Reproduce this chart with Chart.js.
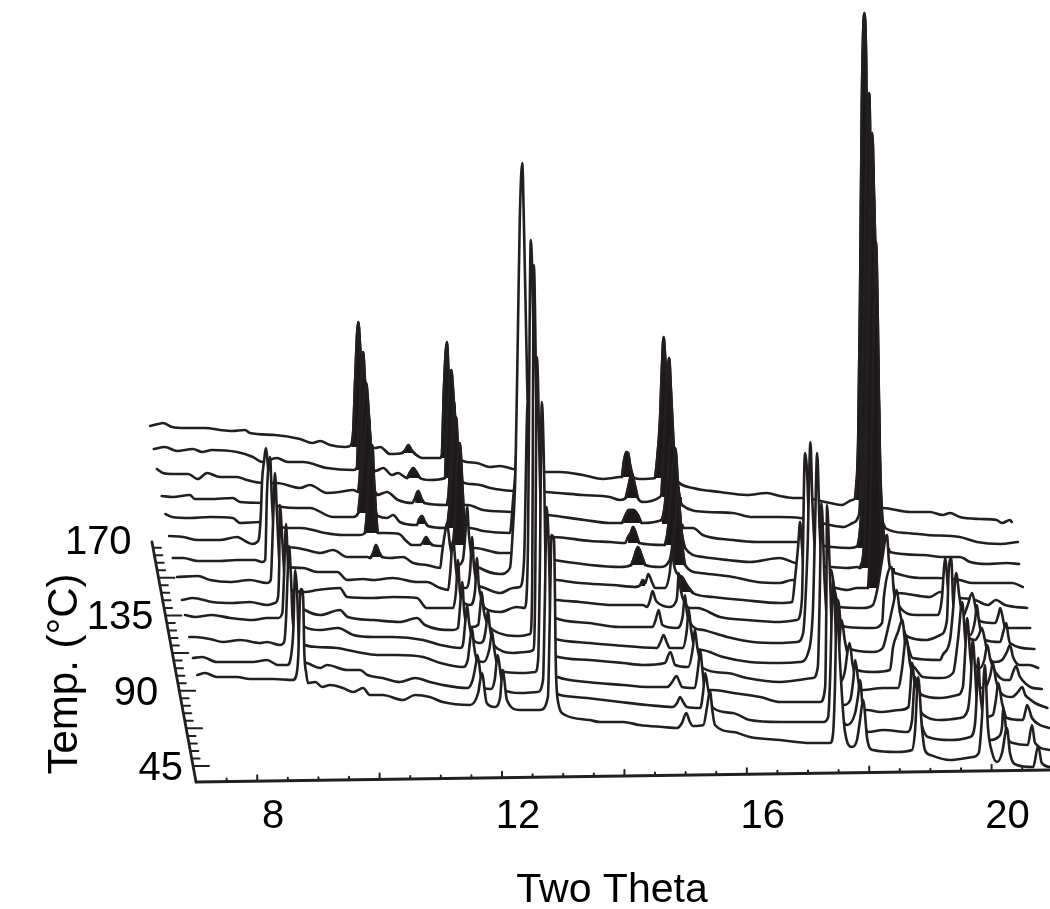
<!DOCTYPE html>
<html>
<head>
<meta charset="utf-8">
<title>Two Theta waterfall</title>
<script src="https://cdn.jsdelivr.net/npm/chart.js@4/dist/chart.umd.min.js"></script>
<style>
  html, body { margin: 0; padding: 0; background: #fff; }
  canvas { display: block; }
</style>
</head>
<body>
<canvas id="chart" width="1050" height="909"></canvas>
<script>
// scans as they sit in the plot: [two theta, height above the front axis]. back scan first
const scan01 = [[6.25,356],[6.38,358],[6.46,359],[6.61,355],[6.82,354],[7.15,354],[7.39,352],[7.59,351],[7.80,352],[7.88,349],[8.29,347],[8.70,343],[8.90,339],[9.03,341],[9.19,337],[9.44,335],[9.54,337],[9.57,352],[9.60,402],[9.65,460],[9.68,437],[9.71,402],[9.76,362],[9.80,335],[9.93,334],[10.01,335],[10.17,328],[10.37,329],[10.42,332],[10.47,337],[10.52,332],[10.58,328],[10.70,324],[10.99,324],[11.02,330],[11.05,392],[11.10,440],[11.13,402],[11.18,352],[11.23,330],[11.36,321],[11.59,319],[11.80,315],[11.97,316],[12.18,313],[12.70,310],[12.95,310],[13.32,307],[13.65,303],[13.81,304],[13.92,305],[13.96,305],[13.99,320],[14.03,330],[14.06,329],[14.09,318],[14.14,305],[14.25,303],[14.50,304],[14.53,320],[14.58,360],[14.61,410],[14.64,445],[14.67,420],[14.71,370],[14.76,325],[14.83,305],[14.88,300],[15.12,294],[15.56,290],[16.00,287],[16.33,289],[16.54,286],[16.75,284],[16.92,284],[17.36,279],[17.55,277],[17.72,282],[17.77,284],[17.82,342],[17.85,482],[17.88,682],[17.92,769],[17.95,722],[17.98,532],[18.02,382],[18.05,282],[18.23,274],[18.67,270],[18.99,270],[19.20,267],[19.32,269],[19.48,265],[19.81,263],[20.08,262],[20.17,259],[20.30,262],[20.33,260]];
const scan02 = [[6.31,333],[6.49,335],[6.69,331],[6.95,333],[7.10,330],[7.26,332],[7.67,330],[7.93,325],[8.08,320],[8.32,324],[8.50,320],[8.75,320],[9.14,314],[9.57,312],[9.63,314],[9.66,362],[9.70,402],[9.73,430],[9.76,402],[9.80,362],[9.85,317],[9.93,311],[10.06,314],[10.20,307],[10.30,309],[10.45,304],[10.50,310],[10.55,314],[10.60,310],[10.66,304],[10.82,302],[11.07,304],[11.10,362],[11.13,392],[11.17,412],[11.20,392],[11.25,342],[11.30,304],[11.48,298],[11.64,297],[11.81,294],[12.18,291],[12.70,290],[13.32,287],[13.76,285],[13.93,282],[14.02,284],[14.07,297],[14.12,309],[14.17,297],[14.22,284],[14.30,280],[14.58,285],[14.61,292],[14.66,362],[14.70,402],[14.73,424],[14.76,392],[14.81,332],[14.86,302],[14.91,282],[14.94,277],[15.35,270],[15.77,269],[16.09,265],[16.54,265],[16.87,264],[17.36,257],[17.58,255],[17.73,259],[17.82,265],[17.85,282],[17.90,432],[17.95,612],[18.00,689],[18.03,582],[18.08,432],[18.13,312],[18.18,272],[18.26,254],[18.62,249],[18.95,247],[19.48,245],[19.76,240],[20.14,238],[20.43,240]];
const scan03 = [[6.36,313],[6.46,309],[6.62,308],[6.87,308],[7.03,303],[7.18,309],[7.39,305],[7.67,305],[7.83,302],[8.08,299],[8.32,299],[8.70,294],[8.86,297],[9.14,289],[9.35,290],[9.57,292],[9.65,290],[9.68,310],[9.71,360],[9.74,385],[9.78,399],[9.81,380],[9.85,340],[9.89,300],[9.96,287],[10.12,290],[10.30,282],[10.53,279],[10.58,284],[10.63,291],[10.68,284],[10.73,279],[11.10,277],[11.13,290],[11.17,342],[11.20,372],[11.21,382],[11.25,342],[11.30,282],[11.34,277],[11.44,277],[11.69,272],[12.16,270],[12.75,267],[13.35,262],[13.76,259],[13.96,259],[14.02,267],[14.07,272],[14.15,272],[14.22,267],[14.28,259],[14.61,262],[14.65,272],[14.70,302],[14.74,337],[14.78,345],[14.81,332],[14.86,292],[14.91,262],[14.97,254],[15.12,254],[15.28,247],[15.77,242],[16.17,240],[16.54,240],[16.82,240],[17.39,235],[17.68,234],[17.81,236],[17.85,252],[17.92,332],[17.97,482],[18.02,622],[18.05,649],[18.08,582],[18.13,462],[18.18,312],[18.23,252],[18.34,230],[18.88,227],[19.20,225],[19.48,225],[19.65,220],[19.93,218],[20.25,219],[20.45,218]];
const scan04 = [[6.44,286],[6.62,285],[6.90,287],[6.98,283],[7.23,283],[7.60,284],[7.72,280],[8.13,279],[8.41,275],[8.65,274],[8.86,274],[9.24,265],[9.57,265],[9.65,269],[9.70,300],[9.75,340],[9.78,360],[9.81,369],[9.85,340],[9.88,300],[9.93,269],[9.97,266],[10.12,264],[10.22,267],[10.33,260],[10.61,257],[10.64,262],[10.69,266],[10.74,260],[10.79,256],[11.07,254],[11.10,254],[11.15,282],[11.20,332],[11.25,365],[11.28,332],[11.33,282],[11.38,252],[11.48,254],[11.69,251],[12.13,249],[12.18,282],[12.22,312],[12.23,329],[12.26,312],[12.30,252],[12.82,245],[13.44,241],[13.77,240],[14.01,239],[14.06,245],[14.11,250],[14.14,255],[14.19,248],[14.24,239],[14.66,237],[14.71,252],[14.76,292],[14.83,334],[14.88,292],[14.93,252],[14.99,234],[15.29,225],[15.68,222],[16.05,220],[16.54,224],[16.79,219],[17.39,215],[17.65,214],[17.80,215],[17.85,214],[17.92,242],[17.97,382],[18.02,532],[18.06,619],[18.09,532],[18.14,382],[18.19,262],[18.24,222],[18.42,209],[18.83,204],[19.12,204],[19.48,202],[19.69,199],[20.08,199],[20.34,199],[20.51,195]];
const scan05 = [[6.50,268],[6.61,265],[6.90,264],[7.23,265],[7.60,264],[7.72,259],[8.05,260],[8.49,254],[8.70,254],[8.91,252],[9.11,249],[9.40,247],[9.68,247],[9.76,249],[9.80,275],[9.83,315],[9.88,337],[9.91,300],[9.94,270],[9.97,249],[10.09,249],[10.32,248],[10.42,242],[10.53,237],[10.66,237],[10.71,240],[10.76,245],[10.81,240],[10.86,237],[10.99,236],[11.20,237],[11.23,262],[11.26,310],[11.31,339],[11.35,300],[11.38,262],[11.41,237],[11.48,234],[11.56,234],[11.97,229],[12.13,229],[12.84,222],[13.44,217],[13.93,215],[14.11,217],[14.16,225],[14.22,235],[14.29,225],[14.34,217],[14.58,215],[14.74,222],[14.78,235],[14.83,262],[14.88,295],[14.91,265],[14.94,240],[14.99,217],[15.24,209],[15.77,205],[16.17,200],[16.54,199],[16.74,202],[17.39,195],[17.64,192],[17.80,194],[17.98,194],[18.00,212],[18.06,402],[18.09,520],[18.11,540],[18.14,462],[18.17,332],[18.21,194],[18.47,189],[18.99,185],[19.16,190],[19.48,184],[19.69,183],[19.94,177],[20.07,182],[20.22,177],[20.58,174]];
const scan06 = [[6.56,246],[6.79,245],[7.03,242],[7.39,242],[7.67,245],[7.83,240],[7.92,238],[8.00,240],[8.03,244],[8.06,269],[8.08,302],[8.11,320],[8.14,334],[8.18,312],[8.24,262],[8.32,242],[8.42,236],[8.50,235],[8.65,234],[8.81,232],[9.03,229],[9.24,232],[9.47,225],[9.80,225],[9.85,224],[9.90,230],[9.94,237],[9.99,230],[10.04,225],[10.17,224],[10.38,225],[10.55,219],[10.77,217],[10.99,214],[11.02,229],[11.07,250],[11.10,259],[11.15,237],[11.20,222],[11.28,217],[11.36,222],[11.40,247],[11.43,275],[11.46,247],[11.52,222],[11.64,214],[11.97,208],[12.13,214],[12.17,245],[12.22,312],[12.26,452],[12.29,562],[12.33,619],[12.36,552],[12.41,402],[12.46,282],[12.54,222],[12.62,207],[12.90,202],[13.27,199],[13.81,197],[14.19,195],[14.26,197],[14.30,202],[14.34,199],[14.39,208],[14.45,200],[14.50,194],[14.66,194],[14.74,209],[14.78,232],[14.81,217],[14.88,207],[14.94,205],[15.02,197],[15.12,189],[15.45,185],[15.94,182],[16.54,179],[16.74,180],[16.79,205],[16.84,237],[16.87,260],[16.90,237],[16.95,197],[17.11,182],[17.23,179],[17.31,187],[17.38,212],[17.42,197],[17.47,182],[17.52,175],[17.90,174],[18.06,177],[18.13,192],[18.21,222],[18.29,247],[18.32,222],[18.39,197],[18.50,175],[18.78,167],[19.12,167],[19.19,185],[19.22,212],[19.24,224],[19.29,192],[19.35,172],[19.52,164],[19.61,177],[19.68,189],[19.73,177],[19.76,167],[19.86,160],[20.06,159],[20.11,167],[20.14,174],[20.19,162],[20.22,154],[20.63,154]];
const scan07 = [[6.62,224],[6.79,224],[7.03,221],[7.39,221],[7.67,222],[7.96,222],[8.08,220],[8.13,222],[8.16,290],[8.21,325],[8.24,282],[8.29,237],[8.37,217],[8.75,214],[8.98,210],[9.31,210],[9.47,202],[9.73,203],[9.89,202],[10.22,204],[10.61,200],[10.77,200],[10.99,194],[11.12,192],[11.15,207],[11.20,242],[11.25,212],[11.31,195],[11.41,194],[11.48,212],[11.51,245],[11.54,217],[11.61,197],[11.67,195],[11.97,189],[12.18,194],[12.29,195],[12.36,222],[12.42,379],[12.44,312],[12.49,227],[12.56,197],[12.70,185],[12.90,182],[13.27,180],[13.81,177],[14.30,177],[14.37,175],[14.42,182],[14.46,191],[14.51,182],[14.55,179],[14.74,175],[14.83,179],[14.86,185],[14.89,209],[14.92,192],[14.99,179],[15.07,174],[15.19,174],[15.56,165],[16.00,162],[16.54,160],[16.82,162],[16.90,182],[16.95,329],[16.99,302],[17.03,222],[17.08,192],[17.20,167],[17.30,164],[17.36,177],[17.43,192],[17.47,177],[17.52,162],[17.64,155],[18.06,154],[18.21,159],[18.24,185],[18.37,215],[18.40,192],[18.47,167],[18.64,145],[18.94,142],[19.16,147],[19.27,162],[19.30,212],[19.34,224],[19.37,182],[19.43,157],[19.57,150],[19.65,147],[19.73,162],[19.76,177],[19.79,162],[19.84,147],[19.89,142],[20.14,140],[20.19,150],[20.24,159],[20.27,147],[20.30,139],[20.70,133]];
const scan08 = [[6.69,205],[7.03,206],[7.23,202],[7.56,200],[7.88,202],[8.16,199],[8.22,202],[8.26,262],[8.29,309],[8.32,272],[8.37,212],[8.44,194],[8.78,190],[8.98,192],[9.35,194],[9.47,185],[9.89,184],[10.22,185],[10.61,184],[10.77,174],[11.20,174],[11.25,192],[11.28,222],[11.31,192],[11.38,179],[11.48,177],[11.56,192],[11.59,224],[11.62,197],[11.67,182],[11.72,174],[11.97,170],[12.24,175],[12.37,174],[12.42,222],[12.47,542],[12.51,462],[12.54,332],[12.59,222],[12.65,182],[12.87,164],[13.43,159],[13.92,155],[14.46,155],[14.51,162],[14.56,172],[14.59,164],[14.62,157],[14.85,154],[14.95,165],[14.99,187],[15.02,170],[15.07,160],[15.15,154],[15.29,152],[15.68,145],[16.10,140],[16.54,139],[16.82,140],[16.92,149],[16.99,229],[17.04,340],[17.07,282],[17.12,222],[17.17,182],[17.30,142],[17.36,142],[17.43,157],[17.49,182],[17.55,147],[17.65,134],[18.06,130],[18.22,134],[18.30,152],[18.39,177],[18.45,192],[18.50,170],[18.59,147],[18.71,124],[19.16,122],[19.20,127],[19.32,142],[19.37,172],[19.42,209],[19.47,187],[19.52,167],[19.62,145],[19.73,142],[19.79,147],[19.84,154],[19.89,142],[19.94,127],[20.06,120],[20.17,122],[20.25,130],[20.30,137],[20.35,125],[20.46,117],[20.62,117],[20.76,114]];
const scan09 = [[6.77,182],[6.95,184],[7.26,180],[7.60,179],[7.88,180],[8.16,177],[8.29,179],[8.34,185],[8.36,220],[8.37,277],[8.41,242],[8.45,202],[8.54,184],[8.78,172],[9.03,167],[9.35,172],[9.48,165],[9.89,162],[10.33,160],[10.61,164],[10.74,157],[11.20,152],[11.28,154],[11.31,172],[11.35,200],[11.38,172],[11.43,157],[11.51,155],[11.61,157],[11.64,172],[11.67,190],[11.70,172],[11.75,160],[11.85,152],[12.29,146],[12.46,148],[12.49,182],[12.52,517],[12.56,382],[12.59,262],[12.64,182],[12.70,152],[12.87,143],[13.43,139],[13.81,137],[14.53,134],[14.59,140],[14.64,147],[14.69,140],[14.74,134],[14.95,134],[15.02,152],[15.05,173],[15.09,152],[15.15,134],[15.27,132],[15.61,125],[16.05,120],[16.54,119],[16.87,120],[17.00,129],[17.08,172],[17.11,242],[17.15,329],[17.19,252],[17.28,182],[17.39,127],[17.45,117],[17.50,132],[17.55,162],[17.60,142],[17.65,127],[17.72,117],[17.80,112],[18.06,110],[18.34,112],[18.39,135],[18.47,150],[18.54,162],[18.59,137],[18.67,120],[18.75,114],[18.88,105],[19.16,104],[19.37,109],[19.45,142],[19.52,180],[19.57,142],[19.62,132],[19.73,117],[19.81,114],[19.88,122],[19.93,137],[19.98,122],[20.06,110],[20.22,102],[20.30,102],[20.35,110],[20.40,116],[20.45,107],[20.50,102],[20.63,95],[20.82,93]];
const scan10 = [[6.82,167],[6.98,165],[7.26,167],[7.56,164],[7.93,162],[8.16,164],[8.34,164],[8.41,169],[8.44,210],[8.47,258],[8.50,222],[8.55,182],[8.63,167],[8.78,155],[9.03,152],[9.32,154],[9.57,147],[9.90,145],[10.22,145],[10.71,142],[10.99,137],[11.32,134],[11.36,137],[11.40,160],[11.43,177],[11.46,160],[11.51,145],[11.57,140],[11.64,139],[11.70,142],[11.74,155],[11.77,172],[11.80,155],[11.85,140],[11.97,132],[12.18,129],[12.38,130],[12.51,132],[12.54,182],[12.57,425],[12.62,302],[12.67,182],[12.73,137],[12.86,126],[13.43,122],[13.98,119],[14.30,117],[14.66,119],[14.75,130],[14.83,117],[15.04,115],[15.12,135],[15.15,153],[15.19,135],[15.28,114],[15.68,109],[16.00,104],[16.54,100],[17.08,104],[17.16,115],[17.19,182],[17.22,279],[17.27,202],[17.35,132],[17.45,112],[17.52,100],[17.60,110],[17.65,132],[17.68,139],[17.73,117],[17.88,92],[18.23,94],[18.47,94],[18.54,115],[18.57,132],[18.60,145],[18.67,117],[18.75,102],[18.86,87],[19.16,84],[19.44,87],[19.53,95],[19.57,132],[19.60,164],[19.65,127],[19.69,107],[19.78,95],[19.89,94],[19.98,107],[20.02,119],[20.07,102],[20.14,90],[20.33,85],[20.43,90],[20.50,95],[20.55,87],[20.60,84],[20.71,79],[20.91,74]];
const scan11 = [[6.89,145],[6.98,145],[7.23,143],[7.44,140],[7.72,142],[8.05,139],[8.16,140],[8.37,137],[8.44,140],[8.47,162],[8.50,212],[8.52,236],[8.55,207],[8.58,162],[8.65,144],[8.78,137],[8.98,135],[9.30,134],[9.63,130],[9.96,127],[10.28,127],[10.71,125],[10.99,119],[11.36,115],[11.44,122],[11.47,137],[11.51,154],[11.54,137],[11.59,122],[11.70,120],[11.79,132],[11.84,150],[11.87,134],[11.94,114],[12.05,110],[12.38,109],[12.54,110],[12.59,122],[12.62,222],[12.65,380],[12.69,302],[12.72,182],[12.78,117],[12.91,105],[13.39,100],[13.98,97],[14.37,95],[14.70,95],[14.78,100],[14.85,106],[14.90,100],[14.94,95],[15.15,94],[15.20,112],[15.24,132],[15.27,115],[15.32,92],[15.45,92],[15.78,89],[16.22,85],[16.54,80],[16.95,80],[17.20,80],[17.28,95],[17.30,182],[17.31,277],[17.35,222],[17.40,132],[17.46,92],[17.58,77],[17.69,82],[17.74,102],[17.77,122],[17.82,102],[17.90,72],[17.97,72],[18.18,70],[18.50,72],[18.64,75],[18.67,92],[18.70,119],[18.75,92],[18.83,72],[18.94,65],[19.16,62],[19.48,64],[19.61,72],[19.66,102],[19.69,142],[19.73,112],[19.75,89],[19.81,69],[19.89,65],[20.02,67],[20.07,82],[20.11,99],[20.17,79],[20.25,64],[20.51,62],[20.55,70],[20.58,77],[20.66,64],[20.79,57],[20.95,54]];
const scan12 = [[6.95,124],[7.10,125],[7.34,120],[7.67,120],[7.93,120],[8.16,122],[8.34,117],[8.49,117],[8.55,125],[8.59,152],[8.62,212],[8.65,192],[8.68,142],[8.73,122],[8.81,119],[9.03,114],[9.14,117],[9.47,112],[9.68,112],[9.80,107],[10.05,104],[10.33,100],[10.58,104],[10.82,100],[11.03,97],[11.44,94],[11.52,102],[11.57,117],[11.60,127],[11.65,107],[11.70,94],[11.82,93],[11.88,102],[11.93,127],[11.98,107],[12.04,92],[12.29,89],[12.58,90],[12.67,102],[12.70,182],[12.73,275],[12.77,222],[12.80,132],[12.86,92],[12.95,87],[13.39,84],[13.93,80],[14.37,77],[14.79,75],[14.86,79],[14.91,85],[14.96,80],[15.02,75],[15.24,74],[15.29,92],[15.32,109],[15.37,92],[15.45,74],[15.77,69],[16.05,62],[16.54,60],[17.04,60],[17.25,60],[17.33,65],[17.36,102],[17.41,202],[17.46,142],[17.52,82],[17.64,57],[17.77,69],[17.82,87],[17.85,102],[17.90,69],[17.98,50],[18.23,52],[18.62,50],[18.70,62],[18.73,92],[18.75,105],[18.80,82],[18.86,57],[18.96,45],[19.32,42],[19.65,45],[19.73,59],[19.76,92],[19.78,124],[19.81,92],[19.84,75],[19.93,45],[19.98,42],[20.11,45],[20.17,55],[20.19,75],[20.22,62],[20.25,45],[20.35,39],[20.59,37],[20.66,57],[20.71,39],[20.95,32]];
const scan13 = [[7.02,107],[7.15,109],[7.34,105],[7.67,105],[7.88,103],[8.26,103],[8.58,102],[8.63,105],[8.67,125],[8.70,185],[8.72,193],[8.75,185],[8.77,129],[8.80,109],[8.83,99],[8.95,100],[9.06,95],[9.19,97],[9.40,94],[9.57,90],[9.73,94],[9.84,87],[10.05,87],[10.38,82],[10.58,87],[10.82,85],[11.03,80],[11.48,77],[11.61,89],[11.67,109],[11.75,79],[11.88,75],[11.97,85],[12.01,112],[12.08,82],[12.29,72],[12.62,72],[12.75,85],[12.78,162],[12.81,247],[12.85,242],[12.88,115],[12.91,82],[13.03,67],[13.43,62],[13.60,60],[13.98,60],[14.25,57],[14.63,55],[14.86,54],[14.94,59],[15.01,69],[15.07,60],[15.12,56],[15.29,57],[15.35,75],[15.40,92],[15.43,75],[15.48,57],[15.78,50],[16.05,45],[16.54,42],[17.04,39],[17.36,39],[17.41,49],[17.44,95],[17.47,182],[17.52,122],[17.60,52],[17.72,35],[17.80,42],[17.85,62],[17.90,82],[17.97,42],[18.06,32],[18.45,30],[18.70,32],[18.75,52],[18.80,105],[18.86,55],[18.91,32],[19.00,27],[19.32,22],[19.69,25],[19.79,29],[19.84,62],[19.89,117],[19.94,55],[20.01,29],[20.09,20],[20.17,29],[20.25,54],[20.30,29],[20.41,17],[20.68,15],[20.76,36],[20.82,19],[20.95,15]];
const scans = [scan01, scan02, scan03, scan04, scan05, scan06, scan07, scan08, scan09, scan10, scan11, scan12, scan13];

// blacked out reflections of the back scans: [scan index, from, to, floor]
const filledPeaks = [
  [0,9.54,9.80,335],[0,10.37,10.58,329],[0,11.02,11.23,324],[0,13.96,14.14,305],[0,14.50,14.83,304],[0,17.77,18.05,282],
  [1,9.63,9.93,312],[1,10.45,10.66,304],[1,11.07,11.30,304],[1,14.02,14.22,284],[1,14.61,14.94,285],[1,17.85,18.26,256],
  [2,9.65,9.96,290],[2,10.58,10.73,279],[2,11.10,11.34,277],[2,13.96,14.28,259],[2,14.61,14.97,258],[2,17.81,18.34,234],
  [3,9.65,9.97,269],[3,10.64,10.79,258],[3,11.10,11.38,254],[3,14.06,14.24,239],[3,14.66,14.99,237],[3,17.85,18.42,214],
  [4,9.76,9.97,249],[4,10.71,10.86,237],[4,11.20,11.41,237],[4,14.11,14.34,217],[4,14.78,14.99,217],[4,17.98,18.21,194],
  [5,9.85,10.04,225],[5,14.19,14.34,196],[5,14.88,15.12,190]
];

const xTickLabels = [8, 12, 16, 20];
const xMajorTicks = [8, 10, 12, 14, 16, 18, 20];
const xMinorTicks = [7.5, 8.5, 9, 9.5, 10.5, 11, 11.5, 12.5, 13, 13.5, 14.5, 15, 15.5, 16.5, 17, 17.5, 18.5, 19, 19.5, 20.5];
const tempMajorTicks = [45, 67.5, 90, 112.5, 135, 157.5];
const tempMinorTicks = [49.5, 54, 58.5, 63, 72, 76.5, 81, 85.5, 94.5, 99, 103.5, 108, 117, 121.5, 126, 130.5, 139.5, 144, 148.5, 153, 162, 166.5, 171, 175.5];
const tempLabels = ["45", "90", "135", "170"];
const tempLabelAt = [45, 90, 135, 180]; // the top label sits at the axis end
const tempLabelGap = [10, 21, 12, 20];

const INK = "#231f20";
const X_MIN = 3.797, X_MAX = 20.954;

// front axis runs slightly uphill, depth axis leans back to the left
const frontY = (t) => (t - 7) * 12 / 13.95;
const depthY = (T) => 16 + (T - 45) * 1.673;
const depthX = (T) => 7 - depthY(T) * 0.003;

function segments(list) {
  const pts = [];
  list.forEach(([a, b]) => pts.push(a, b, { x: b.x, y: null }));
  return pts;
}

const toPoints = (scan) => scan.map(([x, y]) => ({ x, y }));

const datasets = [];
scans.forEach((scan, i) => {
  const z = (scans.length - i) * 10;
  datasets.push({
    data: toPoints(scan), borderColor: INK, borderWidth: 2.6, backgroundColor: "#fff",
    cubicInterpolationMode: "monotone",
    fill: { target: { value: -8 } }, order: z,
  });
  filledPeaks.filter((p) => p[0] === i).forEach(([, from, to, floor]) => {
    datasets.push({
      data: toPoints(scan.filter((p) => p[0] >= from && p[0] <= to)),
      borderColor: INK, borderWidth: 2.6, backgroundColor: "#1b1817",
      cubicInterpolationMode: "monotone",
      fill: { target: { value: floor } }, order: z - 1,
    });
  });
});

const axisStyle = { borderColor: INK, fill: false, order: 0, spanGaps: false, tension: 0 };
datasets.push({ ...axisStyle, borderWidth: 2.8, data: [{ x: 7, y: 0 }, { x: 20.95, y: frontY(20.95) }] });
datasets.push({ ...axisStyle, borderWidth: 2.8, data: [{ x: 7, y: 0 }, { x: 6.28, y: 240 }] });
datasets.push({ ...axisStyle, borderWidth: 2, data: segments(
  xMajorTicks.map((t) => [{ x: t, y: frontY(t) }, { x: t, y: frontY(t) + 6 }])
    .concat(xMinorTicks.map((t) => [{ x: t, y: frontY(t) }, { x: t, y: frontY(t) + 3 }]))
) });
datasets.push({ ...axisStyle, borderWidth: 2, data: segments(
  tempMajorTicks.map((T) => [{ x: depthX(T), y: depthY(T) }, { x: depthX(T) + 0.26, y: depthY(T) }])
    .concat(tempMinorTicks.map((T) => [{ x: depthX(T), y: depthY(T) }, { x: depthX(T) + 0.13, y: depthY(T) }]))
) });

const textPlugin = {
  id: "axisText",
  afterDraw(chart) {
    const { ctx, scales } = chart;
    ctx.save();
    ctx.fillStyle = "#000";
    ctx.font = '40px "Liberation Sans", Arial, sans-serif';
    ctx.textAlign = "right";
    ctx.textBaseline = "middle";
    tempLabels.forEach((txt, i) => {
      const T = tempLabelAt[i];
      ctx.fillText(txt, scales.x.getPixelForValue(depthX(T)) - tempLabelGap[i], scales.y.getPixelForValue(depthY(T)) + 3);
    });
    ctx.textAlign = "center";
    ctx.font = '41px "Liberation Sans", Arial, sans-serif';
    ctx.fillText("Two Theta", 612, 891);
    ctx.font = '42px "Liberation Sans", Arial, sans-serif';
    ctx.translate(65, 674);
    ctx.rotate(-Math.PI / 2);
    ctx.fillText("Temp. (\u00B0C)", 0, 0);
    ctx.restore();
  },
};

new Chart(document.getElementById("chart"), {
  type: "line",
  data: { datasets },
  plugins: [textPlugin],
  options: {
    responsive: false,
    animation: false,
    parsing: { xAxisKey: "x", yAxisKey: "y" },
    layout: { padding: 0 },
    elements: {
      point: { radius: 0, hoverRadius: 0 },
      line: { tension: 0.12, borderJoinStyle: "round", borderCapStyle: "round" },
    },
    plugins: { legend: { display: false }, tooltip: { enabled: false } },
    events: [],
    scales: {
      x: {
        type: "linear", min: X_MIN, max: X_MAX,
        grid: { display: false }, border: { display: false },
        afterBuildTicks: (s) => { s.ticks = xTickLabels.map((value) => ({ value })); },
        afterFit: (s) => { s.height = 119; },
        ticks: {
          color: "#000", padding: -5, labelOffset: 16, maxRotation: 0, autoSkip: false,
          font: { family: '"Liberation Sans", Arial, sans-serif', size: 40 },
        },
      },
      y: { type: "linear", min: -8, max: 782, display: false },
    },
  },
});
</script>
</body>
</html>
